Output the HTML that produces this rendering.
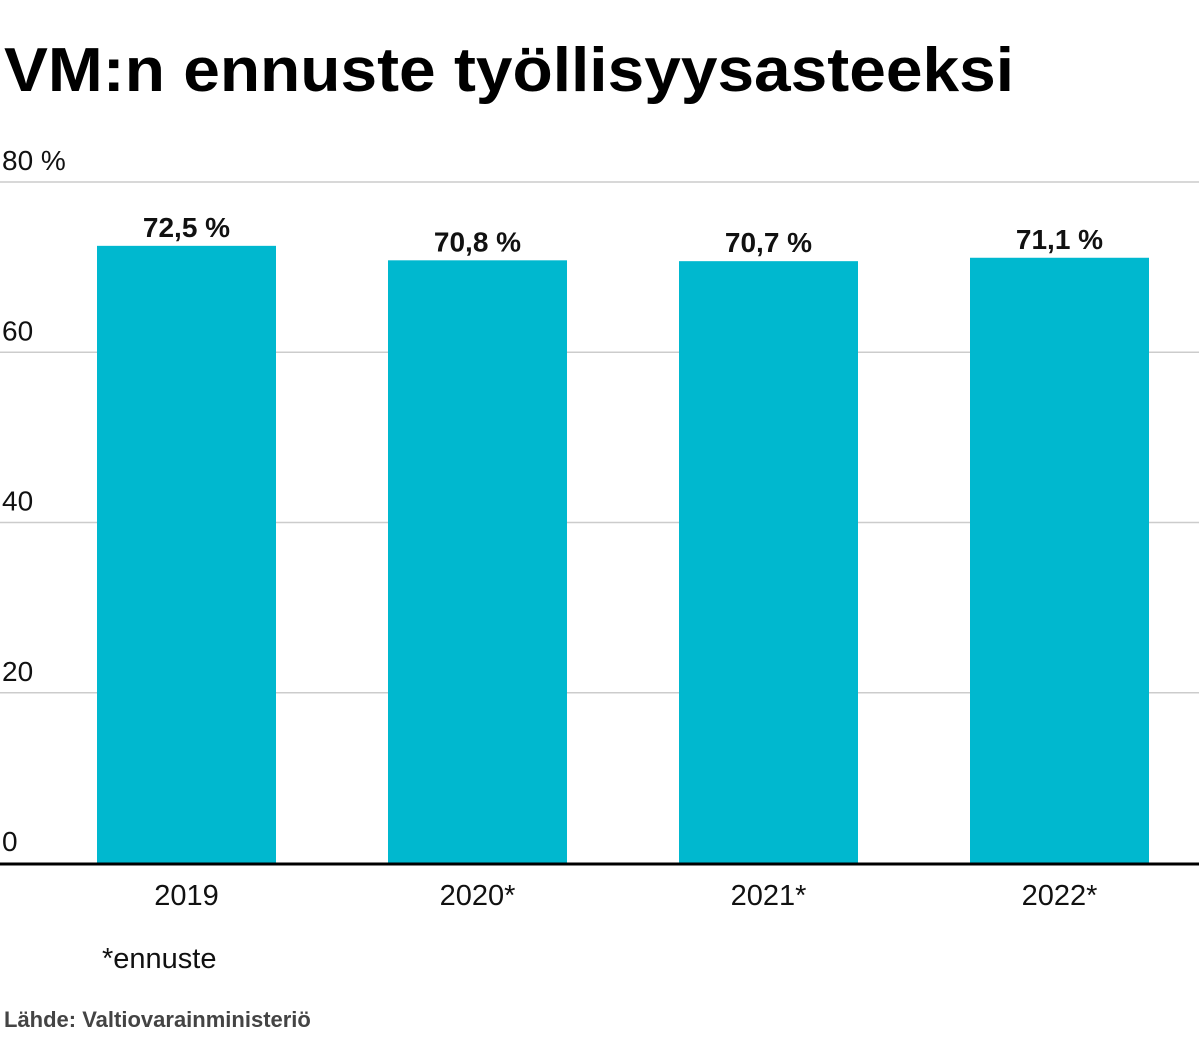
<!DOCTYPE html>
<html><head><meta charset="utf-8"><style>
body{margin:0;background:#fff;font-family:"Liberation Sans",sans-serif;}
</style></head><body>
<svg width="1199" height="1047" xmlns="http://www.w3.org/2000/svg" style="display:block">
<text x="4" y="91" font-size="62" font-weight="bold" fill="#000" textLength="1010" lengthAdjust="spacingAndGlyphs">VM:n ennuste työllisyysasteeksi</text>
<g id="grid"></g>
<g id="bars"></g>
<text x="102" y="968" font-size="29" fill="#111">*ennuste</text>
<text x="4" y="1027" font-size="22" font-weight="bold" fill="#444">Lähde: Valtiovarainministeriö</text>
</svg>
<script>
const categories = ["2019","2020*","2021*","2022*"];
const values = [72.5, 70.8, 70.7, 71.1];
const valueLabels = ["72,5 %","70,8 %","70,7 %","71,1 %"];
const ticks = [0,20,40,60,80];
const tickLabels = ["0","20","40","60","80 %"];
const NS="http://www.w3.org/2000/svg";
const y0=863, yTop=182, vmax=80;
const y=v=>y0-(v/vmax)*(y0-yTop);
const bandStart=97, step=291, bw=179;
const x=i=>bandStart+i*step;
const grid=document.getElementById('grid'), bars=document.getElementById('bars');
function mk(t,a){const e=document.createElementNS(NS,t);for(const k in a)e.setAttribute(k,a[k]);return e;}
ticks.forEach((t,i)=>{
  if(t>0){const l=mk('line',{x1:0,x2:1199,y1:y(t),y2:y(t),stroke:'#ccc','stroke-width':1.5});
  
  
  grid.appendChild(l);}
  const tx=mk('text',{x:2,y:y(t)-12,'font-size':28,fill:'#111'});
  tx.textContent=tickLabels[i];
  
  
  grid.appendChild(tx);
});
values.forEach((v,i)=>{
  const r=mk('rect',{x:x(i),y:y(v),width:bw,height:y0-y(v),fill:'#00b8cf'});
  
  
  bars.appendChild(r);
  const lb=mk('text',{x:x(i)+bw/2,y:y(v)-9,'font-size':28,'font-weight':'bold','text-anchor':'middle',fill:'#111'});
  lb.textContent=valueLabels[i];
  
  
  bars.appendChild(lb);
  const cl=mk('text',{x:x(i)+bw/2,y:905,'font-size':29,'text-anchor':'middle',fill:'#111'});
  cl.textContent=categories[i];
  
  
  bars.appendChild(cl);
});
const base=mk('line',{x1:0,x2:1199,y1:y0+1,y2:y0+1,stroke:'#000','stroke-width':3});


bars.appendChild(base);
</script>
</body></html>
